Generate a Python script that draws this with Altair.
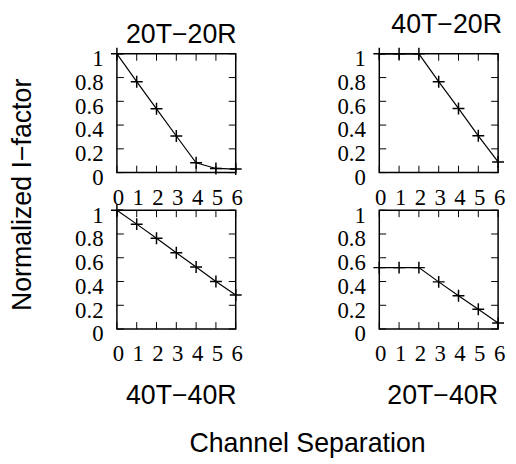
import altair as alt
import pandas as pd

sep = [0, 1, 2, 3, 4, 5, 6]
v_20T20R = [1.0, 0.765, 0.537, 0.308, 0.083, 0.035, 0.03]
v_40T20R = [1.0, 1.0, 1.0, 0.765, 0.54, 0.31, 0.09]
v_40T40R = [1.0, 0.883, 0.764, 0.642, 0.522, 0.40, 0.286]
v_20T40R = [0.517, 0.517, 0.517, 0.397, 0.28, 0.167, 0.05]

x_ticks = [0, 1, 2, 3, 4, 5, 6]
y_ticks = [0, 0.2, 0.4, 0.6, 0.8, 1]

W = H = 120
TICK = 7
SERIF = "Liberation Serif"
SANS = "Liberation Sans"


def xaxis():
    return alt.Axis(values=x_ticks, title=None, ticks=False, domain=False, grid=False,
                    labelFont=SERIF, labelFontSize=23, labelPadding=14, labelColor="black",
                    labelAngle=0, labelFlush=False, labelOffset=1, labelOverlap=False)


def yaxis(ytitle=None):
    kw = dict(values=y_ticks, format=".1~f", ticks=False, domain=False,
              grid=False, labelFont=SERIF, labelFontSize=23, labelPadding=14,
              labelColor="black", labelOffset=5, labelFlush=False, labelOverlap=False)
    if ytitle:
        kw.update(title=ytitle, titleFont=SANS, titleFontSize=27, titleFontWeight="normal",
                  titleColor="black", titleAngle=270, titleBaseline="alphabetic",
                  titleAlign="center", titleX=-87, titleY=142)
    else:
        kw.update(title=None)
    return alt.Axis(**kw)


def xs():
    return alt.Scale(domain=[0, 6], nice=False, zero=False)


def ys():
    return alt.Scale(domain=[0, 1], nice=False)


def panel(vals, title, orient, offset, dx, dy=0, ytitle=None):
    df = pd.DataFrame({"sep": sep, "v": vals})
    base = alt.Chart(df)
    X = alt.X("sep:Q", scale=xs(), axis=xaxis())
    Y = alt.Y("v:Q", scale=ys(), axis=yaxis(ytitle))
    line = base.mark_line(color="black", strokeWidth=1.2).encode(x=X, y=Y)
    pts = base.mark_point(shape="M-1,0L1,0M0,-1L0,1", size=144, color="black",
                          strokeWidth=1.5, filled=False, opacity=1).encode(x=X, y=Y)
    xt = alt.Chart(pd.DataFrame({"t": x_ticks}))
    yt = alt.Chart(pd.DataFrame({"t": y_ticks}))
    XT = alt.X("t:Q", scale=xs(), axis=xaxis())
    YT = alt.Y("t:Q", scale=ys(), axis=yaxis(ytitle))
    bt = xt.mark_rule(color="black", strokeWidth=1).encode(
        x=XT, y=alt.value(H), y2=alt.value(H - TICK))
    tt = xt.mark_rule(color="black", strokeWidth=1).encode(
        x=XT, y=alt.value(0), y2=alt.value(TICK))
    lt = yt.mark_rule(color="black", strokeWidth=1).encode(
        y=YT, x=alt.value(0), x2=alt.value(TICK))
    rt = yt.mark_rule(color="black", strokeWidth=1).encode(
        y=YT, x=alt.value(W), x2=alt.value(W - TICK))
    tkw = dict(orient=orient, offset=offset, frame="group", font=SANS, fontSize=27,
               fontWeight="normal", anchor="middle", color="black", dx=dx, dy=dy)
    if orient == "bottom":
        tkw["baseline"] = "alphabetic"
    return alt.layer(line, pts, bt, tt, lt, rt).properties(
        width=W, height=H, title=alt.TitleParams(title, **tkw))


p1 = panel(v_20T20R, "20T\u221220R", "top", 2, 5, dy=6, ytitle="Normalized I\u2212factor")
p2 = panel(v_40T20R, "40T\u221220R", "top", 6, 8)
p3 = panel(v_40T40R, "40T\u221240R", "bottom", 39, 5)
p4 = panel(v_20T40R, "20T\u221240R", "bottom", 39, 4)

chart = alt.concat(p1, p2, p3, p4, columns=2,
                   spacing={"row": 38, "column": 145}, bounds="flush").properties(
    title=alt.TitleParams("Channel Separation", orient="bottom", offset=42,
                          font=SANS, fontSize=27, fontWeight="normal",
                          anchor="middle", baseline="alphabetic", color="black", dx=50),
    padding=0,
).configure_view(stroke="black", strokeWidth=1.5)

chart.save("out.html", embed_options={"renderer": "svg", "actions": False})
